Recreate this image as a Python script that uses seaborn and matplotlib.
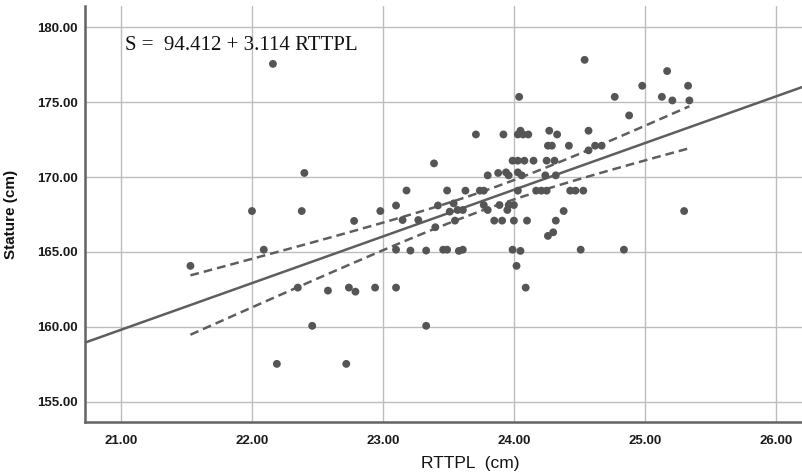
import numpy as np
import pandas as pd
import matplotlib
matplotlib.use("Agg")
import matplotlib.pyplot as plt
import seaborn as sns

# RTTPL (cm) vs stature (cm)
rttpl = [
    21.53, 22.09, 22.16, 22.00, 22.38, 22.40, 22.78, 22.98, 23.10, 22.35,
    22.58, 22.74, 22.79, 22.94, 23.10, 22.46, 22.19, 22.72, 23.10, 23.18,
    23.39, 23.49, 23.15, 23.27, 23.42, 23.40, 23.21, 23.33, 23.46, 23.49,
    23.33, 23.58, 23.61, 23.99, 24.05, 24.02, 24.09, 24.51, 24.84, 24.54,
    24.04, 24.77, 24.98, 25.17, 25.33, 25.13, 25.21, 25.34, 24.88, 23.71,
    23.92, 24.03, 24.05, 24.07, 24.11, 24.27, 24.33, 24.57, 24.26, 24.29,
    24.42, 24.57, 24.62, 24.67, 23.99, 24.03, 24.08, 24.15, 24.25, 24.31,
    23.80, 23.88, 23.94, 23.96, 24.03, 24.06, 24.24, 24.32, 23.63, 23.74,
    23.77, 24.03, 24.17, 24.21, 24.25, 24.43, 24.47, 24.53, 23.54, 23.51,
    23.57, 23.61, 23.77, 23.80, 23.89, 23.95, 23.96, 24.00, 23.55, 23.85,
    23.91, 24.00, 24.10, 24.32, 24.38, 24.26, 24.30, 25.30,
]
stature = [
    164.07, 165.15, 177.55, 167.73, 167.73, 170.27, 167.07, 167.73, 168.10, 162.62,
    162.42, 162.62, 162.35, 162.62, 162.62, 160.07, 157.53, 157.53, 165.15, 169.10,
    170.91, 169.10, 167.13, 167.13, 168.10, 166.65, 165.09, 165.09, 165.15, 165.15,
    160.07, 165.07, 165.15, 165.15, 165.07, 164.07, 162.62, 165.15, 165.15, 177.82,
    175.35, 175.35, 176.09, 177.07, 176.09, 175.35, 175.11, 175.11, 174.11, 172.84,
    172.84, 172.84, 173.09, 172.84, 172.84, 173.09, 172.84, 173.09, 172.09, 172.09,
    172.09, 171.78, 172.09, 172.09, 171.09, 171.09, 171.09, 171.09, 171.09, 171.09,
    170.11, 170.27, 170.31, 170.11, 170.31, 170.11, 170.11, 170.11, 169.09, 169.09,
    169.09, 169.09, 169.09, 169.09, 169.09, 169.09, 169.09, 169.09, 168.24, 167.69,
    167.80, 167.80, 168.13, 167.80, 168.13, 167.80, 168.13, 168.13, 167.09, 167.09,
    167.09, 167.09, 167.09, 167.09, 167.73, 166.07, 166.31, 167.73,
]

# fitted equation shown on the chart
intercept = 94.412
slope = 3.114

x_ticks = [21.0, 22.0, 23.0, 24.0, 25.0, 26.0]
y_ticks = [155.0, 160.0, 165.0, 170.0, 175.0, 180.0]

df = pd.DataFrame({"rttpl": rttpl, "stature": stature})

sns.set_theme(style="whitegrid")
plt.rcParams["font.family"] = ["Liberation Sans", "DejaVu Sans"]

fig = plt.figure(figsize=(8.02, 4.76), dpi=100)
ax = fig.add_axes([0.106, 0.1134, 0.894, 0.8736])

grey = "#5e5e5e"
sns.scatterplot(data=df, x="rttpl", y="stature", ax=ax, color="#555555",
                s=32, edgecolor="none", zorder=3)

# regression line across the whole axis
ax.axline((0, intercept), slope=slope, color=grey, lw=1.8, zorder=2)

# 95% confidence interval of the mean around the fit line
x = df["rttpl"].to_numpy()
y = df["stature"].to_numpy()
n = len(x)
resid = y - (intercept + slope * x)
s_err = np.sqrt(np.sum(resid ** 2) / (n - 2))
sxx = np.sum((x - x.mean()) ** 2)
xs = np.linspace(x.min(), x.max(), 100)
half = 1.983 * s_err * np.sqrt(1 / n + (xs - x.mean()) ** 2 / sxx)
fit = intercept + slope * xs
ax.plot(xs, fit + half, color=grey, lw=1.8, ls=(0, (3.5, 2)), zorder=2)
ax.plot(xs, fit - half, color=grey, lw=1.8, ls=(0, (3.5, 2)), zorder=2)

ax.set_xlim(20.725, 26.2)
ax.set_ylim(153.65, 181.4)
ax.set_xticks(x_ticks)
ax.set_yticks(y_ticks)
ax.set_xticklabels([f"{v:.2f}" for v in x_ticks])
ax.set_yticklabels([f"{v:.2f}" for v in y_ticks])
ax.tick_params(length=0, labelsize=9.5, colors="#1a1a1a")
ax.tick_params(axis="x", pad=9)
ax.tick_params(axis="y", pad=5)
for lab in ax.get_xticklabels() + ax.get_yticklabels():
    lab.set_fontweight("bold")

ax.grid(True, color="#bdbdbd", lw=1.0)
for side in ["top", "right"]:
    ax.spines[side].set_visible(False)
for side in ["left", "bottom"]:
    ax.spines[side].set_color("#636363")
    ax.spines[side].set_linewidth(1.8)

ax.set_xlabel("RTTPL  (cm)", fontsize=12.5, color="#111111")
ax.xaxis.set_label_coords((470 - 85) / 717, -0.082)
ax.set_ylabel("Stature (cm)", fontsize=11, fontweight="bold", color="#111111")
ax.yaxis.set_label_coords(-0.093, 0.5)

ax.text(0.056, 0.906, "S =  94.412 + 3.114 RTTPL", transform=ax.transAxes,
        fontsize=15, family=["Liberation Serif", "DejaVu Serif"],
        va="center", ha="left", color="#111111")

fig.savefig("out.png", dpi=100)
